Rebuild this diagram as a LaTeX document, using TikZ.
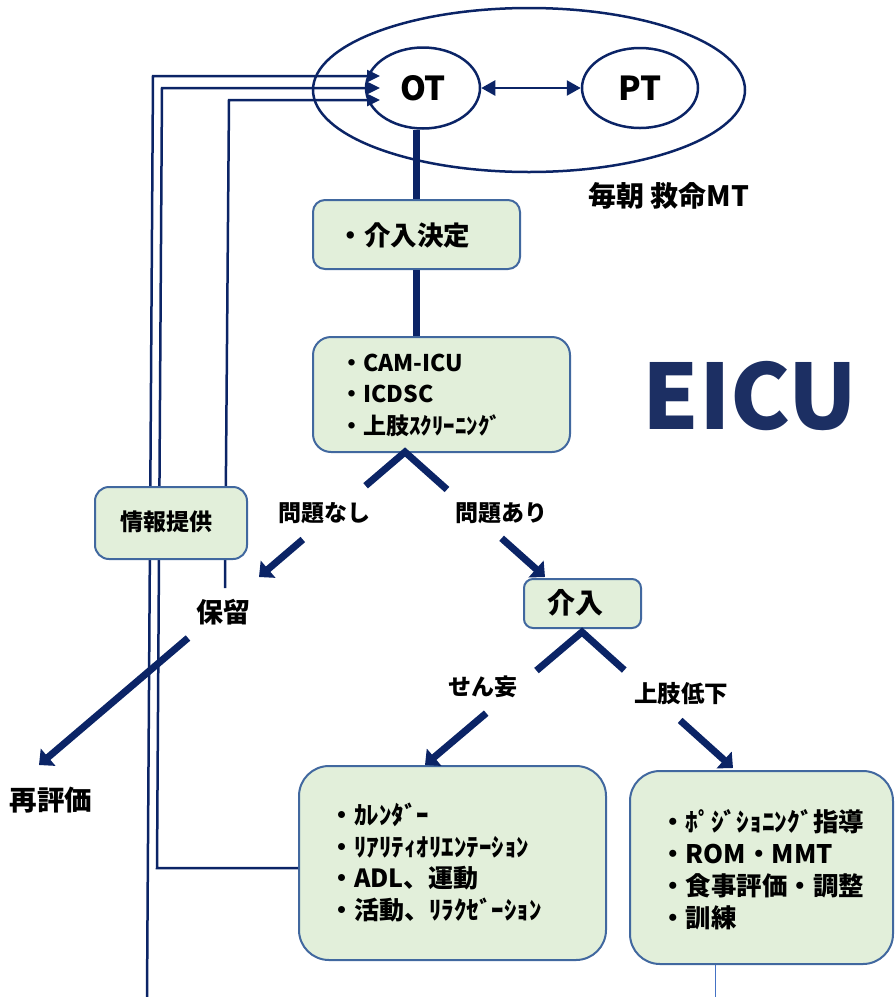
\documentclass[tikz,border=0pt]{standalone}
\usepackage{fontspec}
\setmainfont{Noto Sans CJK JP}
\usetikzlibrary{arrows.meta,calc,shapes.geometric}
\definecolor{navy}{HTML}{0B2466}
\definecolor{eicu}{HTML}{1C2F63}
\definecolor{boxfill}{HTML}{E2EFDA}
\definecolor{boxline}{HTML}{41689F}
\definecolor{thinblue}{HTML}{4472C4}
\newcommand{\fs}[1]{\fontsize{#1}{#1}\selectfont\bfseries}
\tikzset{
  x=1pt, y=-1pt,
  box/.style={draw=boxline, line width=2pt, fill=boxfill, inner sep=0pt},
  oval/.style={ellipse, draw=navy, line width=2.5pt, inner sep=0pt},
  bigline/.style={draw=navy, line width=7pt, line join=miter},
  bigarrow/.style={bigline, -{Triangle[length=12pt,width=22pt]}},
  thinline/.style={draw=navy, line width=2.5pt},
  thinarrow/.style={thinline, -{Triangle[length=13pt,width=12pt]}},
  dblarrow/.style={thinline, {Triangle[length=14pt,width=15pt]}-{Triangle[length=14pt,width=15pt]}},
  lbl/.style={inner sep=0pt, text=black, align=left},
}
\begin{document}
\begin{tikzpicture}
\useasboundingbox (0,0) rectangle (895,997);
% team ellipses
\node[oval, minimum width=432pt, minimum height=164pt] (team) at (529,90) {};
\node[oval, minimum width=114pt, minimum height=81pt] (ot) at (423,88) {\fs{33}OT};
\node[oval, minimum width=116pt, minimum height=80pt] (pt) at (640,88) {\fs{33}PT};
\draw[dblarrow] (ot.east) -- (pt.west);
\node[lbl] (mt) at (669,196) {\fs{28}毎朝 救命MT};
% feedback lines to OT
\coordinate (t1) at (380,76);
\coordinate (t2) at (380,88);
\coordinate (t3) at (380,100);
\coordinate (c1) at (153,76);
\coordinate (c2) at (162,88);
\coordinate (c3) at (229,100);
\coordinate (e1) at (147,997);
\coordinate (e2) at (157,868);
\coordinate (e3) at (225,588);
% boxes
\node[box, rounded corners=30pt, minimum width=307pt, minimum height=194pt] (adl) at (452.5,863) {};
\node[box, rounded corners=30pt, minimum width=263pt, minimum height=193pt] (ue) at (761.5,867.5) {};
\draw[thinarrow] (e1) -- (c1) -- (t1);
\draw[thinarrow] (e2 -| adl.west) -- (e2) -- (c2) -- (t2);
\draw[thinarrow] (e3) -- (c3) -- (t3);
\node[box, rounded corners=14pt, minimum width=152pt, minimum height=72pt] (info) at (171,523) {};
\node[lbl] (infot) at (166,522) {\fs{23}情報提供};
% main flow
\node[box, rounded corners=12pt, minimum width=207pt, minimum height=69pt] (b1) at (416.5,234.5) {};
\node[lbl] (b1t) at (404,235) {\fs{26.5}・介入決定};
\node[box, rounded corners=18pt, minimum width=257pt, minimum height=115pt] (b2) at (441.5,394.5) {};
\node[lbl, anchor=west, font=\fontsize{23}{31.5}\selectfont\bfseries] (b2t) at (340,395) {・CAM-ICU\\・ICDSC\\・上肢ｽｸﾘｰﾆﾝｸﾞ};
\draw[bigline] (ot.south -| b1.north) -- (b1.north);
\draw[bigline] (b1.south) -- (b1.south |- b2.north);
\node[lbl] (eicut) at (750,396) {\fontsize{90}{90}\selectfont\bfseries\color{eicu}EICU};
% split 1
\coordinate (ap1) at (405,452);
\coordinate (tipA) at (259,577);
\coordinate (tipB) at (545,577);
\draw[bigline] ($(ap1)!0.27!(tipA)$) -- (ap1) -- ($(ap1)!0.30!(tipB)$);
\draw[bigarrow] ($(ap1)!0.70!(tipA)$) -- (tipA);
\draw[bigarrow] ($(ap1)!0.69!(tipB)$) -- (tipB);
\node[lbl] (nashi) at (324,513) {\fs{23}問題なし};
\node[lbl] (ari) at (501,513) {\fs{23}問題あり};
\node[lbl] (horyu) at (223,612) {\fs{27}保留};
\node[box, rounded corners=9pt, minimum width=117pt, minimum height=49pt] (kainyu) at (582.5,603.5) {};
\node[lbl] (kainyut) at (575,603) {\fs{28}介入};
% horyu -> saihyoka
\coordinate (hs) at (188,638);
\coordinate (tipR) at (39,765);
\draw[bigarrow] (hs) -- (tipR);
\node[lbl] (sai) at (51,800) {\fs{27.5}再評価};
% split 2
\coordinate (ap2) at (582,632);
\coordinate (tipC) at (425,765);
\coordinate (tipD) at (733,768);
\draw[bigline] ($(ap2)!0.29!(tipC)$) -- (ap2) -- ($(ap2)!0.28!(tipD)$);
\draw[bigarrow] ($(ap2)!0.61!(tipC)$) -- (tipC);
\draw[bigarrow] ($(ap2)!0.65!(tipD)$) -- (tipD);
\node[lbl] (senmo) at (483,687) {\fs{23}せん妄};
\node[lbl] (joshi) at (681,694) {\fs{23.5}上肢低下};
% box texts
\node[lbl, anchor=west, font=\fontsize{25}{31.7}\selectfont\bfseries] (adlt) at (329,862.5) {・ｶﾚﾝﾀﾞｰ\\・ﾘｱﾘﾃｨｵﾘｴﾝﾃｰｼｮﾝ\\・ADL、運動\\・活動、ﾘﾗｸｾﾞｰｼｮﾝ};
\node[lbl, anchor=west, font=\fontsize{25.5}{32}\selectfont\bfseries] (uet) at (660,870) {・ﾎﾟｼﾞｼｮﾆﾝｸﾞ指導\\・ROM・MMT\\・食事評価・調整\\・訓練};
\coordinate (bl) at (715,997);
\draw[thinblue, line width=1pt] (ue.south -| bl) -- (bl);
\end{tikzpicture}
\end{document}
